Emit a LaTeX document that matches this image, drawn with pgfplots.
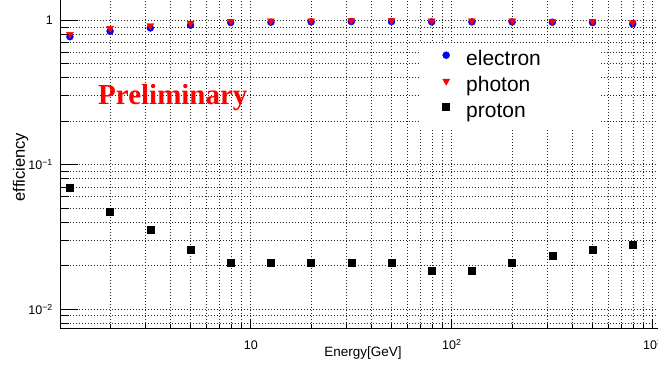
\documentclass[border=0pt]{standalone}
\usepackage{pgfplots}
\pgfplotsset{compat=1.18}
\usepackage{fontspec}
\setmainfont{Liberation Sans}
\newfontfamily\serifbold{Liberation Serif}[BoldFont={Liberation Serif Bold}]
\definecolor{rootblue}{RGB}{0,0,255}
\definecolor{rootred}{RGB}{255,0,0}
\pgfplotstableread{
x electron photon proton
1.2589 0.770 0.800 0.0690
1.9953 0.840 0.880 0.0473
3.1623 0.885 0.920 0.0353
5.0119 0.925 0.955 0.0257
7.9433 0.965 0.985 0.0210
12.589 0.970 0.990 0.0210
19.953 0.975 0.990 0.0210
31.623 0.980 0.995 0.0210
50.119 0.980 0.995 0.0210
79.433 0.975 0.990 0.0186
125.89 0.975 0.990 0.0186
199.53 0.975 0.990 0.0210
316.23 0.970 0.985 0.0234
501.19 0.965 0.985 0.0257
794.33 0.945 0.965 0.0281
}\datatable
\pgfplotsset{
  rootframe/.style={
    at={(60.5pt,38.5pt)}, anchor=south west,
    scale only axis, width=612.4pt, height=344.3pt,
    xmin=1.13, xmax=1258.9, ymin=0.007362, ymax=1.778,
    axis x line*=bottom, axis y line*=left,
    axis line style={line width=1pt, black, -},
    tick align=inside,
    tick style={line width=0.8pt, black},
    xtick={10,100,1000},
    minor xtick={2,3,4,5,6,7,8,9,20,30,40,50,60,70,80,90,200,300,400,500,600,700,800,900},
    ytick={0.01,0.1,1},
    minor ytick={0.008,0.009,0.02,0.03,0.04,0.05,0.06,0.07,0.08,0.09,0.2,0.3,0.4,0.5,0.6,0.7,0.8,0.9},
  },
  rootleg/.style={legend image code/.code={%
      \path[draw=none,fill=none] (0pt,-4pt) rectangle (44pt,14pt);
      \draw[##1] plot coordinates {(26pt,5.5pt)};}},
}
\begin{document}
\begin{tikzpicture}
\useasboundingbox (0pt,0pt) rectangle (658pt,367pt);
\clip (0pt,0pt) rectangle (658pt,367pt);
\begin{scope}[overlay]
\begin{loglogaxis}[rootframe,
  xticklabels={10,10\textsuperscript{2},10\textsuperscript{3}},
  yticklabels={10\textsuperscript{−2},10\textsuperscript{−1},1},
  /pgf/number format/assume math mode=true,
  ticklabel style={font=\fontsize{12.5}{14}\selectfont},
  xticklabel style={anchor=base, yshift=-21pt},
  yticklabel style={anchor=east, inner sep=0pt, xshift=-7.5pt},
  major tick length=10pt, minor tick length=5pt,
  every y tick/.append style={draw=none},
  grid=both,
  major grid style={line width=0.8pt, black!85, dash pattern=on 0.9pt off 2.1pt},
  minor grid style={line width=0.8pt, black!85, dash pattern=on 0.9pt off 2.1pt},
  legend style={at={(axis description cs:0.587,0.8307)}, anchor=north west,
    draw=none, fill=white, font=\fontsize{21}{21}\selectfont,
    inner xsep=0pt, inner ysep=4pt, row sep=1pt,
    nodes={inner sep=2pt, text height=14pt, text depth=4pt},
    /tikz/column 2/.style={nodes={text width=133pt, align=left}}},
  legend cell align=left,
  clip=false,
]
\addplot[only marks, mark=*, mark size=3.5pt, mark options={fill=rootblue, draw=rootblue}, rootleg] table[x=x,y=electron]{\datatable};
\addlegendentry{electron}
\addplot[only marks, mark=triangle*, mark size=4pt, mark options={rotate=180, fill=rootred, draw=rootred}, rootleg] table[x=x,y=photon]{\datatable};
\addlegendentry{photon}
\addplot[only marks, mark=square*, mark size=3.5pt, mark options={fill=black, draw=black}, rootleg] table[x=x,y=proton]{\datatable};
\addlegendentry{proton}
\node[anchor=base west, text=rootred, font=\serifbold\bfseries\fontsize{29}{29}\selectfont, inner sep=0pt]
  at (axis description cs:0.0612,0.6512) {Preliminary};
\node[anchor=base, font=\fontsize{13.5}{15}\selectfont, inner sep=0pt]
  at (axis description cs:0.4938,-0.0819) {Energy[GeV]};
\node[anchor=base, rotate=90, font=\fontsize{16.5}{18}\selectfont, inner sep=0pt]
  at (axis description cs:-0.058,0.469) {efficiency};
\end{loglogaxis}
\begin{loglogaxis}[rootframe,
  xticklabels={}, yticklabels={},
  major tick length=18pt, minor tick length=9pt,
  every x tick/.append style={draw=none},
]
\end{loglogaxis}
\end{scope}
\end{tikzpicture}
\end{document}
